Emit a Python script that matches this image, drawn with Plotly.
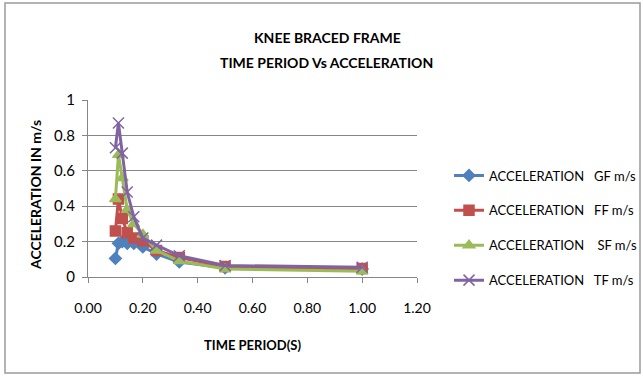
import plotly.graph_objects as go

time_period = [0.1, 0.111, 0.125, 0.143, 0.167, 0.2, 0.25, 0.333, 0.5, 1.0]
acc_gf = [0.105, 0.19, 0.20, 0.19, 0.19, 0.17, 0.13, 0.085, 0.052, 0.045]
acc_ff = [0.26, 0.44, 0.33, 0.25, 0.22, 0.205, 0.15, 0.11, 0.06, 0.048]
acc_sf = [0.44, 0.69, 0.56, 0.38, 0.30, 0.24, 0.15, 0.09, 0.045, 0.032]
acc_tf = [0.73, 0.87, 0.70, 0.48, 0.34, 0.22, 0.18, 0.12, 0.065, 0.055]

names = ["ACCELERATION\u00a0\u00a0\u00a0GF m/s", "ACCELERATION\u00a0\u00a0\u00a0FF m/s",
         "ACCELERATION\u00a0\u00a0\u00a0\u00a0SF m/s", "ACCELERATION\u00a0\u00a0\u00a0TF m/s"]
series = [acc_gf, acc_ff, acc_sf, acc_tf]
colors = ["#4F81BD", "#C0504D", "#9BBB59", "#8064A2"]
symbols = ["diamond", "square", "triangle-up", "x-thin"]
sizes = [9, 10, 10, 11]

title_lines = ["KNEE BRACED FRAME", "TIME PERIOD Vs ACCELERATION"]
x_title = "TIME PERIOD(S)"
y_title = "ACCELERATION IN m/s"

FONT = "Lato, Liberation Sans, sans-serif"

# plot area in pixels
L, R, T, B = 88, 417, 100, 277
W, H = 643, 376
PW, PH = R - L, B - T


def px(x):
    return (x - L) / PW


def py(y):
    return (B - y) / PH


fig = go.Figure()
for i, (nm, ys) in enumerate(zip(names, series)):
    fig.add_trace(go.Scatter(
        x=time_period, y=ys, name=nm, mode="lines+markers",
        legendgroup=f"g{i}",
        line=dict(color=colors[i], width=3),
        marker=dict(symbol=symbols[i], size=sizes[i], color=colors[i],
                    line=dict(color=colors[i], width=1.5)),
    ))

fig.update_layout(
    width=W, height=H,
    margin=dict(l=L, r=W - R, t=T, b=H - B, autoexpand=False),
    paper_bgcolor="white", plot_bgcolor="white",
    font=dict(family=FONT, size=14, color="#000000"),
    showlegend=True,
    legend=dict(x=px(449), xanchor="left", y=py(228), yanchor="middle",
                traceorder="grouped", tracegroupgap=15,
                font=dict(family=FONT, size=13, color="#000000"),
                bgcolor="rgba(0,0,0,0)"),
    xaxis=dict(range=[0, 1.2], dtick=0.2, tickformat=".2f", showgrid=False,
               showline=True, linecolor="#868686", linewidth=1,
               ticks="outside", ticklen=5, tickcolor="#868686",
               zeroline=False, ticklabelstandoff=13,
               tickfont=dict(family=FONT, size=14)),
    yaxis=dict(range=[0, 1], dtick=0.2, showgrid=True, gridcolor="#868686",
               gridwidth=1, showline=True, linecolor="#868686", linewidth=1,
               ticks="outside", ticklen=5, tickcolor="#868686",
               zeroline=False, ticklabelstandoff=4,
               tickfont=dict(family=FONT, size=15)),
)

ann = [
    dict(text=f"<b>{title_lines[0]}</b>", x=px(327), y=py(37), size=14, angle=0),
    dict(text=f"<b>{title_lines[1]}</b>", x=px(326), y=py(62), size=14, angle=0),
    dict(text=f"<b>{x_title}</b>", x=px(252), y=py(345), size=13, angle=0),
    dict(text=f"<b>{y_title}</b>", x=px(35), y=py(195), size=14, angle=-90),
]
for a in ann:
    fig.add_annotation(text=a["text"], x=a["x"], y=a["y"], xref="paper", yref="paper",
                       xanchor="center", yanchor="middle", showarrow=False,
                       textangle=a["angle"],
                       font=dict(family=FONT, size=a["size"], color="#000000"))

fig.add_shape(type="rect", xref="paper", yref="paper",
              x0=px(5), x1=px(640), y0=py(373), y1=py(3),
              line=dict(color="#9a9a9a", width=1.5), fillcolor="rgba(0,0,0,0)", layer="below")

fig.write_html("out.html")
